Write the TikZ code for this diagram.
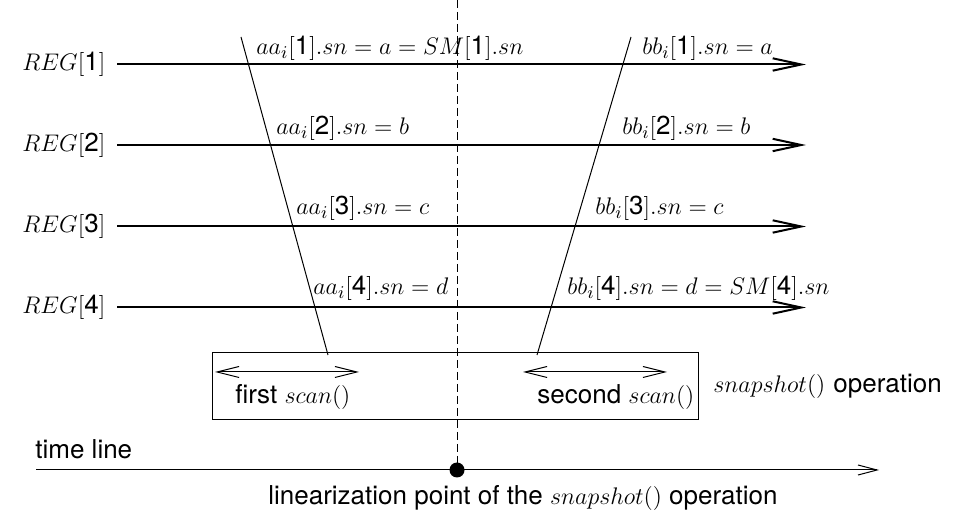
\documentclass[tikz,border=0pt]{standalone}
\usepackage{fontspec}
\setsansfont[Scale=1.04]{TeX Gyre Heros}
\usetikzlibrary{arrows.meta}
\newcommand\dg[1]{\textsf{#1}}
\begin{document}
\begin{tikzpicture}[x=0.5pt,y=-0.5pt,
  font=\fontsize{12.5}{15}\selectfont,
  regline/.style={line width=1pt,-{Straight Barb[length=14.3pt,width=6.2pt,line width=1pt]}},
  fine/.style={line width=0.5pt},
  scanarrow/.style={line width=0.5pt,{Straight Barb[length=11pt,width=5.5pt]}-{Straight Barb[length=11pt,width=5.5pt]}},
  timearrow/.style={line width=0.5pt,-{Straight Barb[length=9.5pt,width=5pt]}},
  lbl/.style={anchor=base west,inner sep=0pt},
  reglbl/.style={anchor=west,inner sep=0pt}]
\useasboundingbox (0,0) rectangle (969,512);

% register labels
\node[reglbl] (g1) at (22,64.5)  {$REG[\dg{1}]$};
\node[reglbl] (g2) at (22,145)   {$REG[\dg{2}]$};
\node[reglbl] (g3) at (22,226.5) {$REG[\dg{3}]$};
\node[reglbl] (g4) at (22,307.5) {$REG[\dg{4}]$};

% register lines
\coordinate (r1s) at (117,64.5);  \coordinate (r1e) at (806,64.5);
\coordinate (r2s) at (117,145);   \coordinate (r2e) at (806,145);
\coordinate (r3s) at (117,226.5); \coordinate (r3e) at (806,226.5);
\coordinate (r4s) at (117,307.5); \coordinate (r4e) at (806,307.5);
\draw[regline] (r1s) -- (r1e);
\draw[regline] (r2s) -- (r2e);
\draw[regline] (r3s) -- (r3e);
\draw[regline] (r4s) -- (r4e);

% slanted scan lines
\coordinate (at) at (241,37);  \coordinate (ab) at (328,355);
\coordinate (bt) at (631,37);  \coordinate (bb) at (537,355);
\draw[fine] (at) -- (ab);
\draw[fine] (bt) -- (bb);

% labels
\node[lbl] (a1) at (256,55)  {$aa_i[\dg{1}].sn = a = SM[\dg{1}].sn$};
\node[lbl] (a2) at (276,135) {$aa_i[\dg{2}].sn = b$};
\node[lbl] (a3) at (296,215) {$aa_i[\dg{3}].sn = c$};
\node[lbl] (a4) at (313,295) {$aa_i[\dg{4}].sn = d$};
\node[lbl] (b1) at (642,55)  {$bb_i[\dg{1}].sn = a$};
\node[lbl] (b2) at (622,135) {$bb_i[\dg{2}].sn = b$};
\node[lbl] (b3) at (595,215) {$bb_i[\dg{3}].sn = c$};
\node[lbl] (b4) at (567,295) {$bb_i[\dg{4}].sn = d = SM[\dg{4}].sn$};

% snapshot box
\node[draw,fine,inner sep=0pt,minimum width=243pt,minimum height=33.5pt] (box) at (455,386.5) {};
\coordinate (s1a) at (215,372); \coordinate (s1b) at (359,372);
\coordinate (s2a) at (523,372); \coordinate (s2b) at (667,372);
\draw[scanarrow] (s1a) -- (s1b);
\draw[scanarrow] (s2a) -- (s2b);
\node[lbl] (f1) at (235,404) {\sffamily first $scan()$};
\node[lbl] (f2) at (537,404) {\sffamily second $scan()$};
\node[lbl] (op) at (713,393) {$snapshot()$ \sffamily operation};

% time line
\node[lbl] (tl) at (35,459) {\sffamily time line};
\coordinate (ts) at (36,470); \coordinate (te) at (879,470);
\draw[timearrow] (ts) -- (te);
\node[circle,fill=black,inner sep=0pt,minimum size=7.5pt] (dot) at (457,470) {};
\coordinate (dtop) at (457,0);
\draw[fine,dash pattern=on 4pt off 2pt] (dtop) -- (dot.center);
\node[lbl] (lin) at (268,505) {\sffamily linearization point of the $snapshot()$ operation};
\end{tikzpicture}
\end{document}
